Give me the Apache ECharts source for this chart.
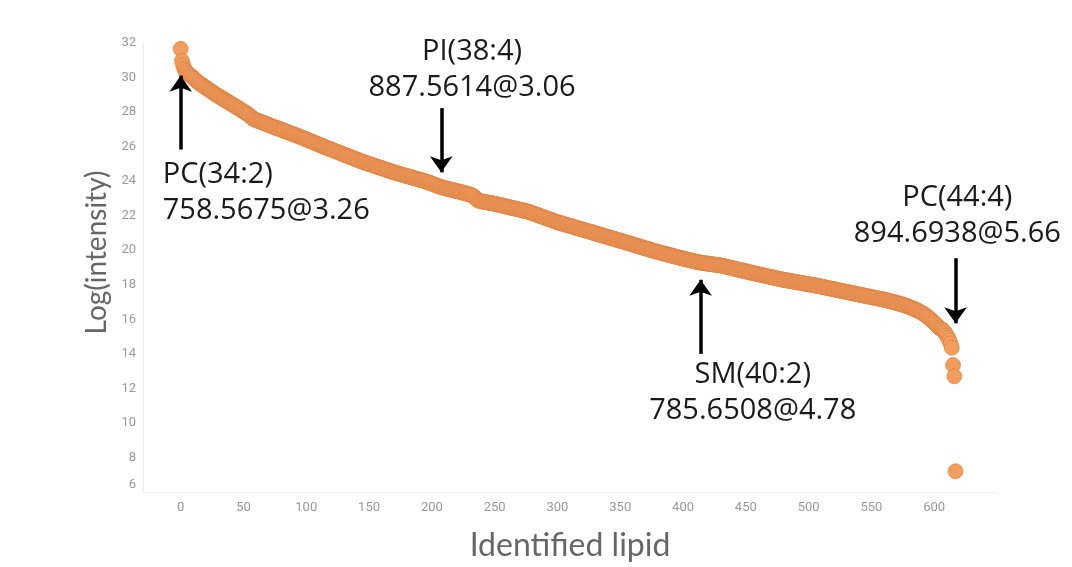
<!DOCTYPE html>
<html>
<head>
<meta charset="utf-8">
<style>
  html, body { margin: 0; padding: 0; background: #ffffff; }
  #chart { width: 1072px; height: 567px; }
</style>
<script src="https://cdn.jsdelivr.net/npm/echarts@6/dist/echarts.min.js"></script>
</head>
<body>
<div id="chart"></div>
<script>
// Log intensity of each identified lipid, ranked from most to least intense (rank = array index).
const logIntensity = [
  31.66, 30.97, 30.70, 30.50, 30.38, 30.29, 30.22, 30.16, 30.10, 30.05,
  29.98, 29.92, 29.85, 29.78, 29.72, 29.66, 29.61, 29.57, 29.52, 29.46,
  29.42, 29.37, 29.33, 29.27, 29.22, 29.17, 29.12, 29.07, 29.02, 28.97,
  28.93, 28.88, 28.84, 28.80, 28.75, 28.71, 28.66, 28.62, 28.58, 28.53,
  28.49, 28.44, 28.40, 28.36, 28.31, 28.27, 28.22, 28.18, 28.13, 28.08,
  28.04, 27.99, 27.94, 27.90, 27.86, 27.80, 27.72, 27.65, 27.60, 27.57,
  27.54, 27.51, 27.48, 27.46, 27.43, 27.40, 27.37, 27.34, 27.32, 27.29,
  27.26, 27.23, 27.20, 27.17, 27.14, 27.12, 27.09, 27.06, 27.04, 27.01,
  26.98, 26.95, 26.93, 26.90, 26.87, 26.84, 26.82, 26.79, 26.76, 26.73,
  26.71, 26.68, 26.65, 26.62, 26.60, 26.57, 26.54, 26.51, 26.48, 26.45,
  26.42, 26.39, 26.36, 26.33, 26.30, 26.27, 26.24, 26.21, 26.18, 26.15,
  26.12, 26.09, 26.06, 26.03, 26.00, 25.97, 25.94, 25.91, 25.88, 25.86,
  25.83, 25.80, 25.77, 25.74, 25.71, 25.69, 25.66, 25.63, 25.60, 25.57,
  25.54, 25.51, 25.49, 25.46, 25.43, 25.40, 25.37, 25.34, 25.31, 25.29,
  25.26, 25.23, 25.20, 25.17, 25.14, 25.12, 25.09, 25.07, 25.04, 25.02,
  25.00, 24.97, 24.95, 24.92, 24.90, 24.87, 24.85, 24.82, 24.80, 24.78,
  24.75, 24.73, 24.70, 24.68, 24.65, 24.63, 24.60, 24.58, 24.56, 24.53,
  24.51, 24.49, 24.47, 24.45, 24.43, 24.40, 24.38, 24.36, 24.34, 24.32,
  24.30, 24.28, 24.26, 24.24, 24.22, 24.19, 24.17, 24.15, 24.13, 24.11,
  24.09, 24.07, 24.05, 24.03, 24.01, 23.98, 23.96, 23.94, 23.91, 23.88,
  23.86, 23.83, 23.80, 23.77, 23.74, 23.72, 23.69, 23.66, 23.64, 23.62,
  23.60, 23.58, 23.56, 23.55, 23.53, 23.51, 23.49, 23.48, 23.46, 23.44,
  23.42, 23.40, 23.39, 23.37, 23.35, 23.33, 23.31, 23.29, 23.27, 23.25,
  23.23, 23.21, 23.18, 23.14, 23.08, 23.01, 22.94, 22.88, 22.86, 22.84,
  22.82, 22.81, 22.80, 22.78, 22.77, 22.76, 22.74, 22.73, 22.72, 22.70,
  22.69, 22.67, 22.65, 22.64, 22.62, 22.60, 22.59, 22.57, 22.55, 22.54,
  22.52, 22.50, 22.48, 22.47, 22.45, 22.43, 22.42, 22.40, 22.38, 22.37,
  22.35, 22.33, 22.31, 22.30, 22.28, 22.26, 22.25, 22.23, 22.20, 22.18,
  22.15, 22.12, 22.10, 22.07, 22.04, 22.02, 21.99, 21.97, 21.94, 21.91,
  21.89, 21.86, 21.83, 21.81, 21.78, 21.75, 21.73, 21.70, 21.67, 21.65,
  21.62, 21.60, 21.58, 21.56, 21.54, 21.51, 21.49, 21.47, 21.45, 21.43,
  21.41, 21.39, 21.37, 21.35, 21.32, 21.30, 21.28, 21.26, 21.24, 21.22,
  21.20, 21.18, 21.16, 21.13, 21.11, 21.09, 21.07, 21.05, 21.03, 21.00,
  20.98, 20.96, 20.94, 20.92, 20.89, 20.87, 20.85, 20.83, 20.81, 20.79,
  20.76, 20.74, 20.72, 20.70, 20.68, 20.66, 20.64, 20.61, 20.59, 20.57,
  20.55, 20.53, 20.51, 20.49, 20.46, 20.44, 20.42, 20.40, 20.38, 20.35,
  20.33, 20.31, 20.29, 20.27, 20.24, 20.22, 20.20, 20.18, 20.16, 20.13,
  20.11, 20.09, 20.07, 20.05, 20.03, 20.00, 19.98, 19.96, 19.94, 19.92,
  19.90, 19.88, 19.86, 19.84, 19.82, 19.80, 19.78, 19.76, 19.75, 19.73,
  19.71, 19.69, 19.67, 19.65, 19.63, 19.61, 19.59, 19.57, 19.56, 19.54,
  19.52, 19.50, 19.48, 19.46, 19.45, 19.43, 19.41, 19.40, 19.38, 19.36,
  19.34, 19.33, 19.31, 19.30, 19.28, 19.27, 19.26, 19.25, 19.24, 19.23,
  19.22, 19.21, 19.20, 19.19, 19.18, 19.17, 19.16, 19.15, 19.14, 19.13,
  19.12, 19.10, 19.09, 19.07, 19.05, 19.04, 19.02, 19.00, 18.98, 18.97,
  18.95, 18.93, 18.91, 18.90, 18.88, 18.86, 18.84, 18.83, 18.81, 18.79,
  18.78, 18.76, 18.74, 18.72, 18.71, 18.69, 18.67, 18.66, 18.64, 18.62,
  18.61, 18.59, 18.58, 18.56, 18.54, 18.53, 18.51, 18.50, 18.48, 18.46,
  18.45, 18.43, 18.42, 18.40, 18.38, 18.37, 18.35, 18.34, 18.32, 18.30,
  18.29, 18.28, 18.26, 18.25, 18.24, 18.22, 18.21, 18.20, 18.18, 18.17,
  18.16, 18.15, 18.13, 18.12, 18.11, 18.09, 18.08, 18.07, 18.05, 18.04,
  18.03, 18.02, 18.00, 17.99, 17.98, 17.96, 17.95, 17.94, 17.92, 17.91,
  17.89, 17.88, 17.86, 17.85, 17.83, 17.82, 17.80, 17.79, 17.77, 17.76,
  17.74, 17.73, 17.71, 17.70, 17.68, 17.66, 17.65, 17.63, 17.62, 17.60,
  17.59, 17.57, 17.56, 17.54, 17.53, 17.51, 17.50, 17.48, 17.47, 17.45,
  17.44, 17.42, 17.41, 17.39, 17.38, 17.36, 17.35, 17.33, 17.32, 17.30,
  17.29, 17.27, 17.26, 17.24, 17.23, 17.21, 17.20, 17.18, 17.17, 17.15,
  17.14, 17.12, 17.10, 17.08, 17.07, 17.05, 17.03, 17.01, 16.99, 16.97,
  16.95, 16.93, 16.91, 16.89, 16.87, 16.84, 16.82, 16.79, 16.77, 16.74,
  16.72, 16.69, 16.66, 16.63, 16.60, 16.57, 16.53, 16.50, 16.46, 16.42,
  16.38, 16.34, 16.29, 16.24, 16.19, 16.13, 16.07, 16.00, 15.94, 15.87,
  15.80, 15.73, 15.66, 15.59, 15.52, 15.46, 15.41, 15.37, 15.28, 15.18,
  15.06, 14.93, 14.78, 14.60, 14.35, 13.35, 12.70, 7.20
];

// Axis tick labels
const xTicks = [0, 50, 100, 150, 200, 250, 300, 350, 400, 450, 500, 550, 600];
const yTicks = [6, 8, 10, 12, 14, 16, 18, 20, 22, 24, 26, 28, 30, 32];

// Highlighted lipids: name / m/z @ retention time
const calloutNames = ['PC(34:2)', 'PI(38:4)', 'SM(40:2)', 'PC(44:4)'];
const calloutIons  = ['758.5675@3.26', '887.5614@3.06', '785.6508@4.78', '894.6938@5.66'];

// Callout placement in data space: text anchor and arrow (tail -> head)
const calloutText  = [[-14.3, 23.34, 'left'], [232, 30.43, 'center'], [455.5, 11.77, 'center'], [618.4, 21.97, 'center']];
const calloutArrow = [[0, 25.83, 30.11], [207.5, 28.23, 24.51], [414, 14.0, 18.29], [617, 19.54, 15.77]];

const points = logIntensity.map((v, i) => [i, v]);

const chart = echarts.init(document.getElementById('chart'), null, { renderer: 'canvas' });

const annoFont = { fontFamily: '"Open Sans", "Noto Sans", sans-serif', fontSize: 29, color: '#1a1a1a', lineHeight: 36 };
const tickFont = { color: '#999999', fontFamily: 'Roboto, sans-serif', fontSize: 13 };

chart.setOption({
  animation: false,
  backgroundColor: '#ffffff',
  grid: { left: 143, right: 75, top: 43, bottom: 69, containLabel: false },
  xAxis: {
    type: 'value',
    min: -30,
    max: 650,
    name: 'Identified lipid',
    nameLocation: 'middle',
    nameGap: 38,
    nameTextStyle: { fontFamily: 'Lato, "Open Sans", sans-serif', fontSize: 32, color: '#666666' },
    axisLine: { show: true, onZero: false, lineStyle: { color: '#ececec', width: 1 } },
    axisTick: { show: false },
    splitLine: { show: false },
    axisLabel: Object.assign({ customValues: xTicks, margin: 9 }, tickFont)
  },
  yAxis: {
    type: 'value',
    min: 6,
    max: 32,
    interval: 2,
    name: 'Log(intensity)',
    nameLocation: 'middle',
    nameRotate: 90,
    nameGap: 27,
    nameTextStyle: { fontFamily: 'Lato, "Open Sans", sans-serif', fontSize: 28, color: '#666666', padding: [0, 0, 0, 30] },
    axisLine: { show: true, onZero: false, lineStyle: { color: '#ececec', width: 1 } },
    axisTick: { show: false },
    splitLine: { show: false },
    axisLabel: Object.assign({
      customValues: yTicks,
      margin: 7,
      formatter: v => (v === 6 ? '{lift|6}' : String(v)),
      rich: { lift: Object.assign({ padding: [0, 0, 14, 0] }, tickFont) }
    }, tickFont)
  },
  series: [{
    type: 'scatter',
    data: points,
    symbol: 'circle',
    symbolSize: 15,
    clip: false,
    itemStyle: { color: '#F09D5E', borderColor: '#DC8246', borderWidth: 0.7, opacity: 1 },
    emphasis: { disabled: true },
    markLine: {
      silent: true,
      symbol: ['none', 'arrow'],
      symbolSize: [17, 16],
      label: { show: false },
      lineStyle: { color: '#000000', width: 3.5, type: 'solid' },
      emphasis: { disabled: true },
      data: calloutArrow.map(a => [{ coord: [a[0], a[1]] }, { coord: [a[0], a[2]] }])
    },
    markPoint: {
      silent: true,
      symbol: 'circle',
      symbolSize: 0,
      itemStyle: { color: 'rgba(0,0,0,0)' },
      data: calloutText.map((t, k) => ({
        coord: [t[0], t[1]],
        label: Object.assign({
          show: true,
          position: 'inside',
          align: t[2],
          verticalAlign: 'middle',
          formatter: calloutNames[k] + '\n' + calloutIons[k]
        }, annoFont)
      }))
    }
  }]
});
</script>
</body>
</html>
